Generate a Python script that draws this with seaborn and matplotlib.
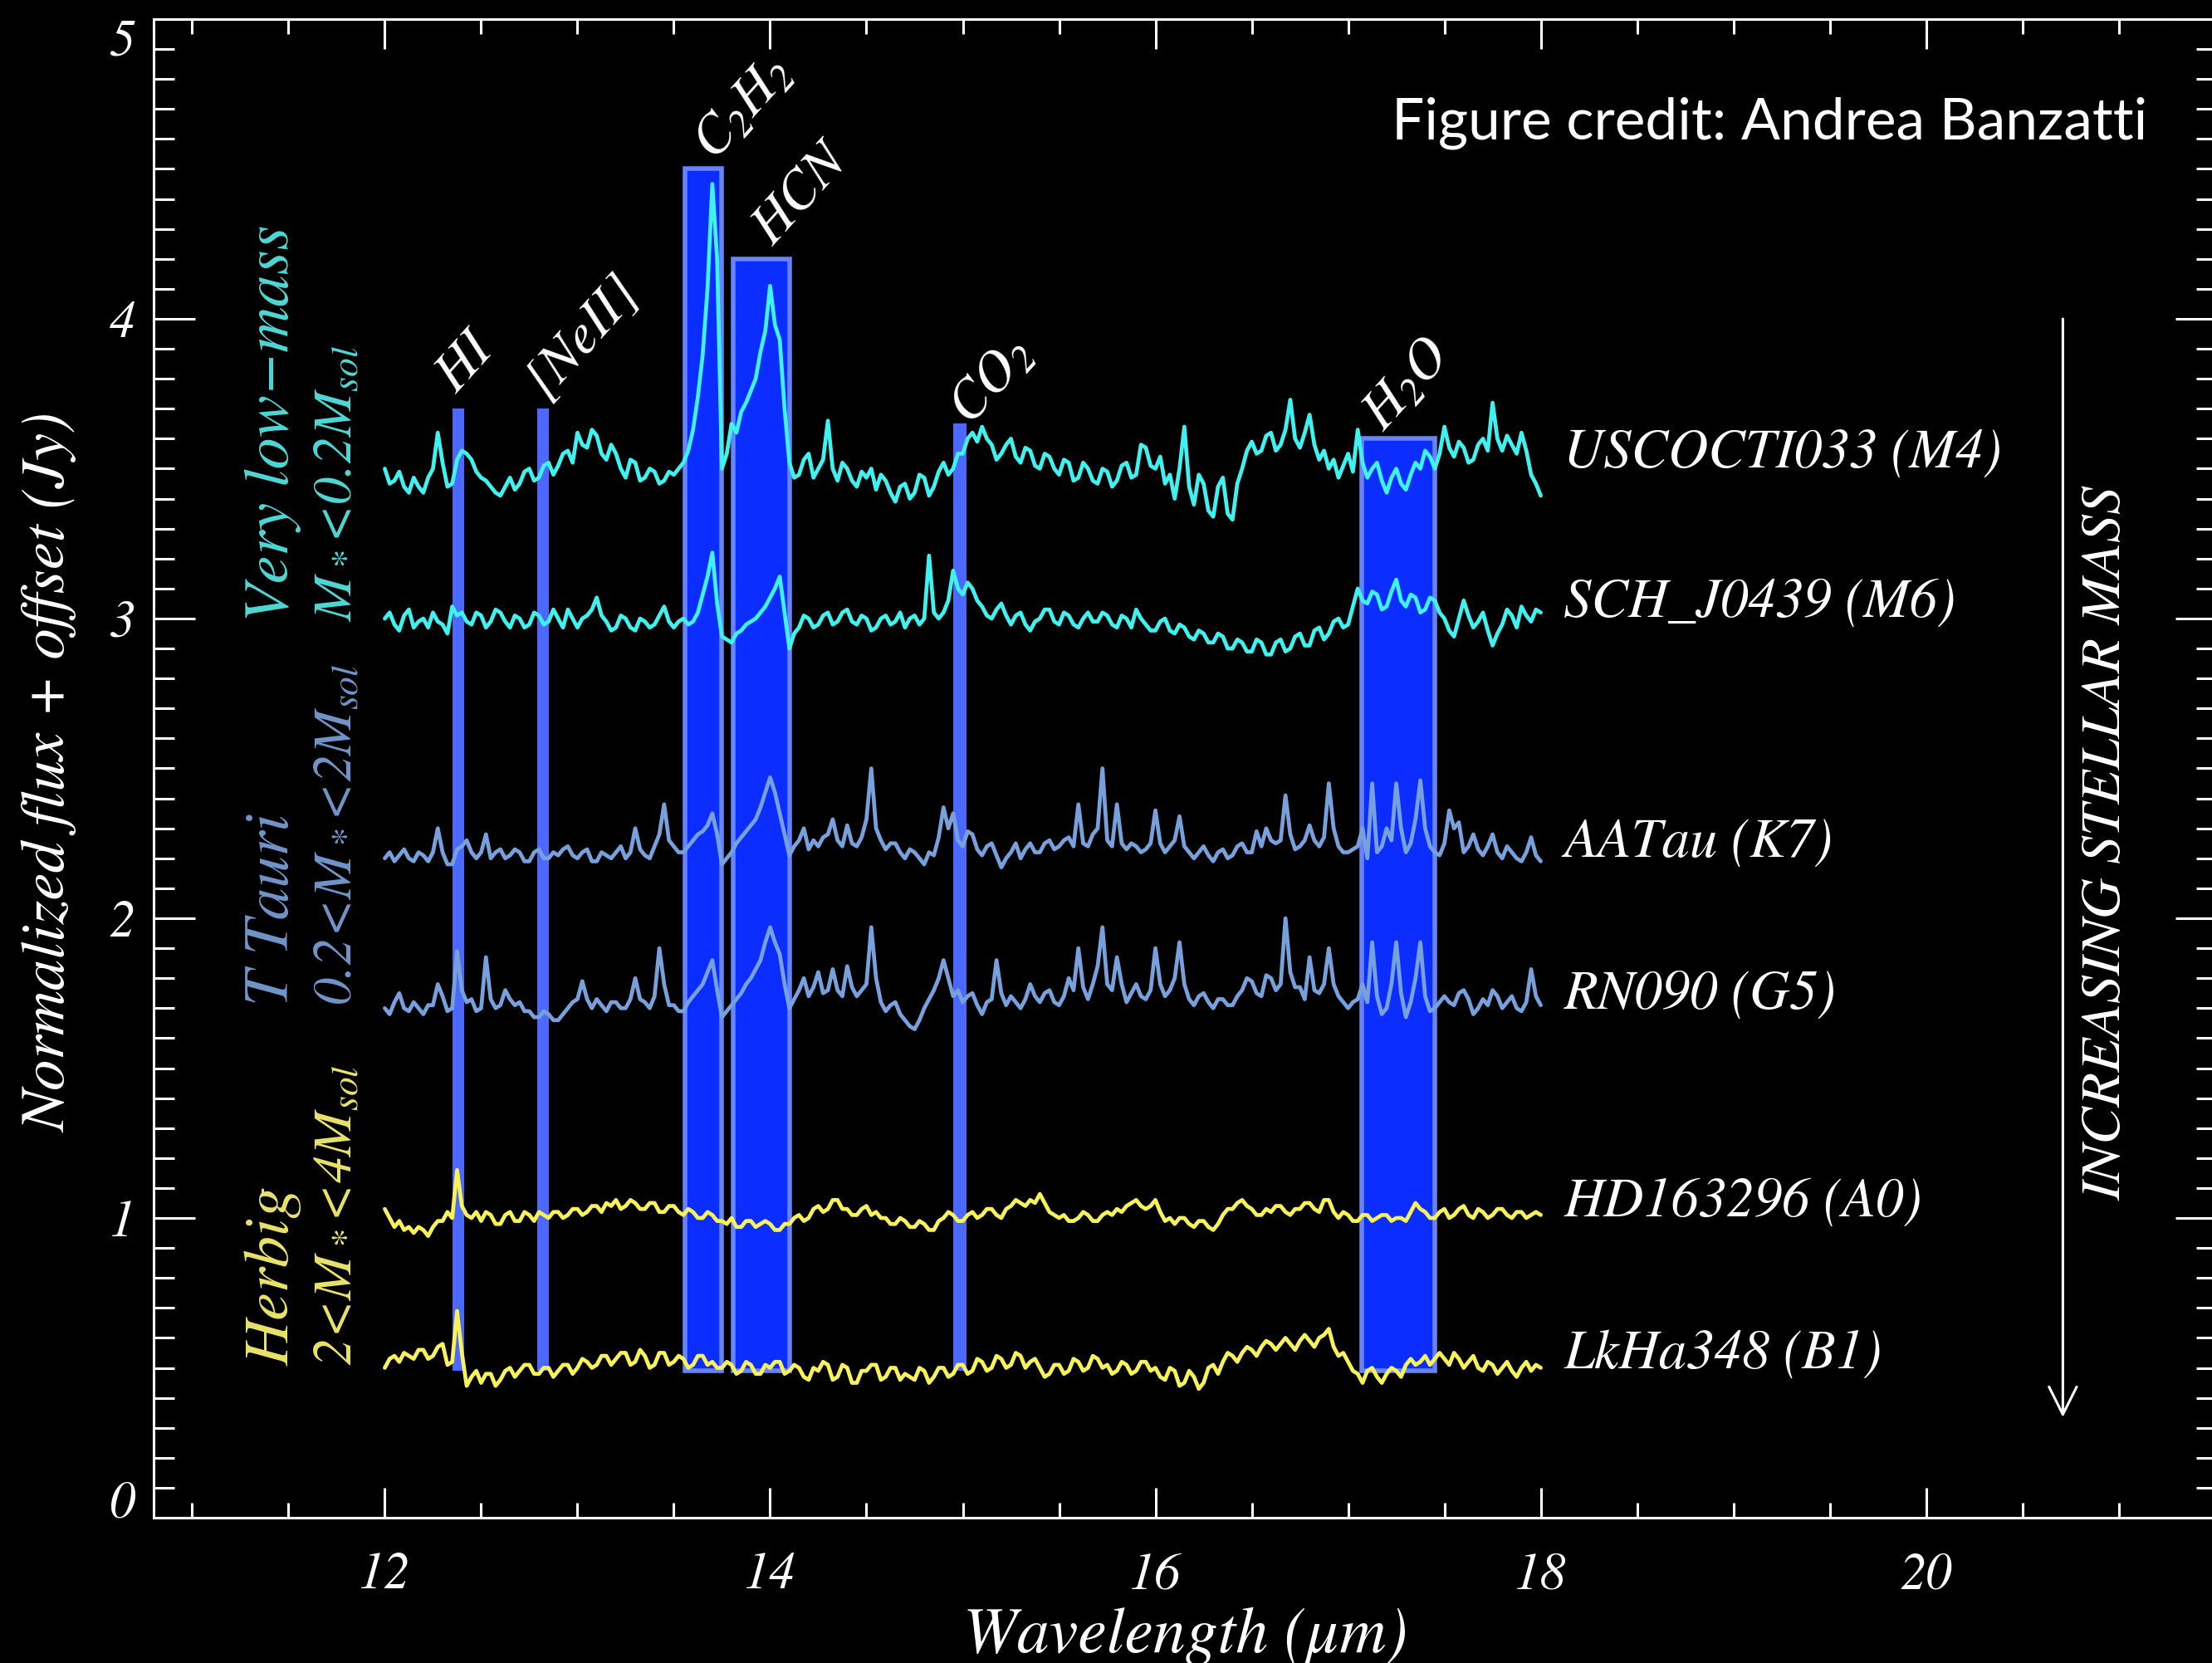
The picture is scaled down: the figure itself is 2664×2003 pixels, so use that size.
import numpy as np
import pandas as pd
import matplotlib
matplotlib.use("Agg")
import matplotlib.pyplot as plt
from matplotlib.ticker import FixedLocator, MultipleLocator
import seaborn as sns

# ---------------------------------------------------------------------------
# Spectra (normalized flux + vertical offset), sampled every 0.025 micron
# from 12.0 to 18.0 micron; one row = 0.25 micron
# ---------------------------------------------------------------------------
wavelength = np.round(np.arange(12.0, 18.0 + 0.001, 0.025), 3)

flux_usco = [
    3.50, 3.45, 3.46, 3.49, 3.44, 3.42, 3.47, 3.44, 3.42, 3.47,
    3.50, 3.62, 3.52, 3.44, 3.45, 3.53, 3.56, 3.55, 3.53, 3.49,
    3.47, 3.46, 3.44, 3.42, 3.41, 3.44, 3.47, 3.43, 3.45, 3.49,
    3.50, 3.46, 3.47, 3.51, 3.52, 3.48, 3.51, 3.55, 3.56, 3.52,
    3.62, 3.58, 3.57, 3.63, 3.61, 3.55, 3.53, 3.58, 3.55, 3.50,
    3.47, 3.53, 3.52, 3.46, 3.47, 3.50, 3.49, 3.45, 3.46, 3.49,
    3.48, 3.50, 3.52, 3.56, 3.63, 3.74, 3.88, 4.10, 4.45, 4.20,
    3.50, 3.55, 3.65, 3.62, 3.69, 3.72, 3.76, 3.80, 3.89, 3.96,
    4.11, 3.98, 3.93, 3.70, 3.52, 3.47, 3.48, 3.53, 3.55, 3.47,
    3.50, 3.53, 3.66, 3.50, 3.46, 3.52, 3.50, 3.46, 3.44, 3.49,
    3.47, 3.50, 3.43, 3.48, 3.46, 3.42, 3.39, 3.44, 3.45, 3.40,
    3.42, 3.48, 3.47, 3.41, 3.44, 3.49, 3.52, 3.48, 3.50, 3.55,
    3.55, 3.60, 3.62, 3.59, 3.64, 3.60, 3.58, 3.53, 3.55, 3.58,
    3.60, 3.54, 3.52, 3.57, 3.56, 3.51, 3.50, 3.55, 3.54, 3.50,
    3.48, 3.53, 3.52, 3.46, 3.47, 3.52, 3.50, 3.46, 3.45, 3.50,
    3.49, 3.44, 3.46, 3.51, 3.52, 3.47, 3.48, 3.58, 3.57, 3.51,
    3.50, 3.54, 3.45, 3.48, 3.40, 3.50, 3.64, 3.44, 3.38, 3.48,
    3.45, 3.36, 3.34, 3.44, 3.47, 3.35, 3.33, 3.45, 3.50, 3.56,
    3.59, 3.55, 3.56, 3.61, 3.62, 3.56, 3.58, 3.63, 3.73, 3.60,
    3.57, 3.62, 3.68, 3.58, 3.53, 3.56, 3.50, 3.53, 3.47, 3.51,
    3.55, 3.49, 3.63, 3.52, 3.47, 3.50, 3.52, 3.46, 3.42, 3.47,
    3.50, 3.45, 3.43, 3.48, 3.52, 3.50, 3.56, 3.54, 3.50, 3.55,
    3.64, 3.57, 3.54, 3.59, 3.57, 3.52, 3.53, 3.58, 3.60, 3.56,
    3.72, 3.60, 3.56, 3.61, 3.58, 3.55, 3.62, 3.56, 3.48, 3.45,
    3.41,
]

flux_sch = [
    3.00, 3.02, 2.98, 2.96, 3.01, 3.03, 2.97, 2.99, 3.00, 2.97,
    3.02, 2.99, 2.98, 2.95, 3.04, 3.01, 3.02, 2.99, 2.98, 3.02,
    3.01, 2.97, 2.99, 3.03, 3.02, 2.99, 2.97, 3.01, 3.00, 2.97,
    2.98, 3.02, 3.01, 2.98, 2.99, 3.03, 3.00, 2.97, 3.03, 3.00,
    2.97, 3.00, 3.01, 3.03, 3.07, 3.01, 2.99, 2.96, 2.97, 3.01,
    3.00, 2.97, 2.96, 3.00, 2.99, 2.97, 2.98, 3.01, 3.04, 2.99,
    2.97, 2.99, 3.00, 2.98, 2.99, 3.02, 3.08, 3.14, 3.22, 3.05,
    2.94, 2.93, 2.92, 2.95, 2.96, 2.98, 2.99, 3.00, 3.02, 3.04,
    3.07, 3.10, 3.14, 3.02, 2.90, 2.95, 2.97, 3.01, 3.00, 2.97,
    2.98, 3.01, 3.02, 2.98, 2.99, 3.02, 3.03, 2.99, 2.98, 3.01,
    3.00, 2.96, 2.97, 3.00, 3.01, 2.98, 2.99, 3.02, 2.97, 3.00,
    3.01, 2.98, 3.00, 3.21, 3.02, 3.00, 3.02, 3.06, 3.16, 3.10,
    3.08, 3.12, 3.10, 3.06, 3.04, 3.01, 3.00, 3.03, 3.05, 3.01,
    2.98, 3.01, 3.02, 2.98, 2.96, 2.99, 3.00, 3.03, 3.03, 2.99,
    2.98, 3.02, 3.01, 2.98, 2.97, 3.00, 3.02, 2.99, 2.99, 3.02,
    3.01, 2.98, 2.97, 3.01, 3.00, 2.97, 3.03, 3.00, 2.98, 2.96,
    2.96, 2.99, 3.00, 2.96, 2.95, 2.98, 2.97, 2.94, 2.93, 2.96,
    2.95, 2.92, 2.92, 2.95, 2.94, 2.90, 2.90, 2.93, 2.92, 2.89,
    2.89, 2.93, 2.92, 2.88, 2.88, 2.92, 2.93, 2.89, 2.90, 2.94,
    2.95, 2.91, 2.91, 2.96, 2.97, 2.93, 2.95, 2.99, 3.00, 2.97,
    2.98, 3.04, 3.10, 3.06, 3.05, 3.09, 3.08, 3.03, 3.04, 3.09,
    3.13, 3.06, 3.04, 3.08, 3.07, 3.02, 3.03, 3.07, 3.06, 3.02,
    3.00, 2.96, 2.94, 3.00, 3.06, 3.01, 2.97, 2.99, 3.02, 2.96,
    2.91, 2.95, 2.98, 3.03, 3.01, 2.97, 3.04, 3.01, 2.99, 3.03,
    3.02,
]

flux_aatau = [
    2.20, 2.22, 2.19, 2.21, 2.23, 2.20, 2.19, 2.22, 2.21, 2.19,
    2.22, 2.30, 2.22, 2.18, 2.18, 2.23, 2.24, 2.26, 2.22, 2.20,
    2.22, 2.28, 2.20, 2.22, 2.23, 2.20, 2.21, 2.23, 2.22, 2.19,
    2.19, 2.22, 2.23, 2.20, 2.20, 2.22, 2.21, 2.23, 2.24, 2.21,
    2.20, 2.22, 2.23, 2.19, 2.19, 2.22, 2.21, 2.20, 2.22, 2.24,
    2.20, 2.22, 2.30, 2.23, 2.21, 2.20, 2.24, 2.28, 2.38, 2.26,
    2.24, 2.22, 2.22, 2.24, 2.26, 2.28, 2.29, 2.31, 2.35, 2.28,
    2.18, 2.20, 2.22, 2.25, 2.27, 2.29, 2.31, 2.33, 2.37, 2.42,
    2.47, 2.42, 2.35, 2.28, 2.21, 2.24, 2.26, 2.30, 2.23, 2.26,
    2.24, 2.27, 2.28, 2.33, 2.26, 2.24, 2.31, 2.25, 2.24, 2.27,
    2.33, 2.50, 2.30, 2.26, 2.23, 2.25, 2.25, 2.22, 2.20, 2.23,
    2.22, 2.20, 2.18, 2.22, 2.21, 2.27, 2.37, 2.30, 2.35, 2.26,
    2.24, 2.29, 2.28, 2.23, 2.21, 2.24, 2.25, 2.21, 2.17, 2.20,
    2.22, 2.25, 2.20, 2.23, 2.25, 2.22, 2.22, 2.25, 2.26, 2.23,
    2.24, 2.26, 2.27, 2.24, 2.38, 2.25, 2.24, 2.28, 2.30, 2.50,
    2.26, 2.24, 2.38, 2.25, 2.23, 2.25, 2.24, 2.22, 2.23, 2.25,
    2.36, 2.25, 2.22, 2.24, 2.26, 2.34, 2.24, 2.22, 2.20, 2.22,
    2.24, 2.21, 2.19, 2.22, 2.23, 2.20, 2.21, 2.24, 2.25, 2.22,
    2.22, 2.29, 2.24, 2.30, 2.26, 2.25, 2.26, 2.41, 2.28, 2.23,
    2.24, 2.26, 2.31, 2.26, 2.24, 2.27, 2.45, 2.30, 2.24, 2.22,
    2.22, 2.23, 2.24, 2.30, 2.20, 2.45, 2.22, 2.24, 2.30, 2.26,
    2.45, 2.30, 2.22, 2.25, 2.33, 2.46, 2.30, 2.24, 2.22, 2.21,
    2.25, 2.36, 2.30, 2.32, 2.22, 2.24, 2.28, 2.23, 2.21, 2.24,
    2.28, 2.22, 2.20, 2.24, 2.22, 2.20, 2.19, 2.22, 2.27, 2.21,
    2.19,
]

flux_rn090 = [
    1.70, 1.68, 1.72, 1.75, 1.70, 1.69, 1.72, 1.70, 1.68, 1.71,
    1.71, 1.78, 1.74, 1.69, 1.70, 1.89, 1.76, 1.72, 1.73, 1.69,
    1.70, 1.87, 1.73, 1.70, 1.71, 1.76, 1.73, 1.71, 1.72, 1.69,
    1.69, 1.67, 1.67, 1.69, 1.68, 1.66, 1.66, 1.68, 1.70, 1.72,
    1.73, 1.79, 1.73, 1.70, 1.73, 1.71, 1.69, 1.72, 1.72, 1.70,
    1.70, 1.73, 1.80, 1.73, 1.72, 1.70, 1.74, 1.90, 1.78, 1.71,
    1.71, 1.69, 1.69, 1.72, 1.74, 1.76, 1.78, 1.82, 1.86, 1.76,
    1.67, 1.69, 1.71, 1.73, 1.75, 1.78, 1.80, 1.83, 1.86, 1.92,
    1.97, 1.92, 1.88, 1.78, 1.70, 1.73, 1.76, 1.80, 1.74, 1.77,
    1.82, 1.75, 1.76, 1.83, 1.76, 1.74, 1.84, 1.77, 1.74, 1.76,
    1.78, 1.97, 1.80, 1.72, 1.69, 1.71, 1.72, 1.68, 1.66, 1.64,
    1.63, 1.66, 1.70, 1.73, 1.76, 1.80, 1.86, 1.80, 1.74, 1.76,
    1.72, 1.74, 1.75, 1.71, 1.68, 1.72, 1.73, 1.86, 1.75, 1.71,
    1.74, 1.72, 1.70, 1.73, 1.78, 1.74, 1.72, 1.75, 1.76, 1.72,
    1.71, 1.74, 1.80, 1.76, 1.90, 1.77, 1.73, 1.78, 1.84, 1.97,
    1.78, 1.76, 1.87, 1.78, 1.72, 1.75, 1.78, 1.74, 1.73, 1.76,
    1.90, 1.78, 1.74, 1.76, 1.80, 1.92, 1.78, 1.73, 1.71, 1.74,
    1.75, 1.72, 1.70, 1.73, 1.73, 1.71, 1.71, 1.74, 1.76, 1.80,
    1.79, 1.75, 1.74, 1.81, 1.80, 1.76, 1.78, 2.00, 1.82, 1.77,
    1.77, 1.73, 1.87, 1.76, 1.75, 1.78, 1.90, 1.78, 1.74, 1.72,
    1.70, 1.72, 1.73, 1.78, 1.72, 1.92, 1.74, 1.68, 1.70, 1.78,
    1.92, 1.75, 1.67, 1.72, 1.80, 1.92, 1.74, 1.69, 1.70, 1.72,
    1.74, 1.72, 1.71, 1.75, 1.76, 1.73, 1.68, 1.70, 1.73, 1.71,
    1.76, 1.74, 1.70, 1.72, 1.74, 1.70, 1.69, 1.72, 1.83, 1.74,
    1.71,
]

flux_hd = [
    1.03, 1.00, 0.97, 0.99, 0.96, 0.97, 0.95, 0.97, 0.96, 0.94,
    0.97, 0.99, 0.99, 1.02, 1.00, 1.16, 1.04, 1.01, 1.00, 1.02,
    0.99, 1.02, 1.01, 0.98, 0.98, 1.01, 1.02, 0.99, 0.99, 1.02,
    1.01, 0.99, 1.02, 1.01, 1.00, 1.02, 1.02, 1.00, 1.01, 1.03,
    1.03, 1.01, 1.02, 1.04, 1.04, 1.02, 1.05, 1.04, 1.06, 1.03,
    1.04, 1.06, 1.05, 1.03, 1.03, 1.05, 1.05, 1.02, 1.02, 1.04,
    1.04, 1.02, 1.01, 1.03, 1.02, 1.00, 1.00, 1.02, 1.01, 0.99,
    0.99, 0.98, 1.00, 0.97, 0.97, 0.99, 0.99, 0.97, 0.98, 0.99,
    0.98, 0.96, 0.96, 0.98, 0.98, 1.00, 1.01, 0.99, 1.00, 1.03,
    1.04, 1.02, 1.03, 1.06, 1.06, 1.03, 1.03, 1.01, 1.01, 1.03,
    1.04, 1.01, 1.02, 1.00, 1.00, 0.98, 0.98, 1.00, 0.99, 0.97,
    0.97, 0.99, 0.98, 0.96, 0.96, 0.99, 1.00, 1.02, 1.01, 0.99,
    0.99, 1.01, 1.02, 1.00, 1.01, 1.03, 1.03, 1.01, 1.00, 1.03,
    1.04, 1.06, 1.05, 1.04, 1.06, 1.05, 1.08, 1.05, 1.02, 1.01,
    1.00, 1.01, 0.99, 0.99, 1.00, 1.02, 1.01, 0.99, 0.99, 1.01,
    1.02, 1.01, 1.03, 1.02, 1.04, 1.05, 1.06, 1.04, 1.03, 1.04,
    1.06, 1.02, 0.99, 1.00, 0.98, 1.00, 1.00, 0.98, 0.97, 0.99,
    0.99, 0.97, 0.96, 0.98, 1.01, 1.03, 1.03, 1.05, 1.06, 1.04,
    1.03, 1.01, 1.01, 1.03, 1.02, 1.04, 1.04, 1.02, 1.01, 1.03,
    1.03, 1.05, 1.05, 1.03, 1.02, 1.06, 1.06, 1.02, 1.00, 1.02,
    1.01, 0.99, 0.99, 1.01, 1.01, 0.99, 1.00, 1.01, 1.01, 0.99,
    1.00, 1.00, 0.99, 1.02, 1.05, 1.03, 1.02, 1.00, 1.00, 1.02,
    1.03, 1.00, 1.01, 1.03, 1.04, 1.01, 1.00, 1.03, 1.02, 1.00,
    1.01, 1.03, 1.03, 1.01, 1.00, 1.02, 1.02, 1.00, 1.01, 1.02,
    1.01,
]

flux_lkha = [
    0.50, 0.53, 0.54, 0.52, 0.55, 0.54, 0.53, 0.56, 0.56, 0.53,
    0.54, 0.57, 0.58, 0.51, 0.52, 0.69, 0.55, 0.44, 0.47, 0.49,
    0.45, 0.48, 0.48, 0.44, 0.46, 0.49, 0.50, 0.47, 0.49, 0.51,
    0.51, 0.48, 0.48, 0.50, 0.50, 0.47, 0.49, 0.51, 0.51, 0.48,
    0.50, 0.53, 0.52, 0.50, 0.51, 0.54, 0.54, 0.51, 0.53, 0.55,
    0.55, 0.51, 0.52, 0.56, 0.54, 0.50, 0.51, 0.55, 0.55, 0.51,
    0.52, 0.54, 0.53, 0.50, 0.51, 0.54, 0.54, 0.51, 0.52, 0.50,
    0.50, 0.52, 0.51, 0.48, 0.49, 0.52, 0.51, 0.48, 0.48, 0.51,
    0.50, 0.52, 0.52, 0.48, 0.49, 0.51, 0.50, 0.47, 0.46, 0.50,
    0.49, 0.52, 0.51, 0.46, 0.47, 0.51, 0.50, 0.45, 0.45, 0.49,
    0.49, 0.51, 0.51, 0.46, 0.47, 0.50, 0.50, 0.46, 0.48, 0.47,
    0.46, 0.50, 0.49, 0.45, 0.47, 0.50, 0.50, 0.47, 0.48, 0.51,
    0.51, 0.48, 0.49, 0.53, 0.52, 0.49, 0.50, 0.54, 0.53, 0.50,
    0.51, 0.55, 0.54, 0.50, 0.52, 0.53, 0.50, 0.47, 0.48, 0.51,
    0.51, 0.48, 0.49, 0.53, 0.52, 0.49, 0.50, 0.54, 0.53, 0.50,
    0.51, 0.48, 0.49, 0.52, 0.51, 0.48, 0.49, 0.52, 0.52, 0.49,
    0.50, 0.47, 0.46, 0.50, 0.49, 0.44, 0.45, 0.49, 0.47, 0.43,
    0.45, 0.50, 0.51, 0.48, 0.52, 0.55, 0.54, 0.52, 0.55, 0.57,
    0.56, 0.54, 0.57, 0.59, 0.58, 0.56, 0.58, 0.60, 0.58, 0.56,
    0.59, 0.61, 0.59, 0.57, 0.60, 0.61, 0.63, 0.57, 0.54, 0.55,
    0.52, 0.49, 0.48, 0.45, 0.49, 0.50, 0.47, 0.45, 0.48, 0.50,
    0.49, 0.47, 0.51, 0.53, 0.51, 0.52, 0.54, 0.51, 0.53, 0.55,
    0.53, 0.51, 0.55, 0.53, 0.50, 0.52, 0.54, 0.50, 0.49, 0.52,
    0.51, 0.48, 0.50, 0.52, 0.49, 0.47, 0.50, 0.52, 0.49, 0.51,
    0.50,
]

sources = ["USCOCTI033 (M4)", "SCH_J0439 (M6)", "AATau (K7)",
           "RN090 (G5)", "HD163296 (A0)", "LkHa348 (B1)"]
source_flux = [flux_usco, flux_sch, flux_aatau, flux_rn090, flux_hd, flux_lkha]
source_label_y = [3.55, 3.05, 2.25, 1.745, 1.05, 0.545]
source_colors = ["#3ff2ef", "#3ff2ef", "#77a1dc", "#77a1dc", "#f7f258", "#f7f258"]

# Molecular / atomic line windows
band_names = ["HI", "[NeII]", r"$C_2H_2$", "HCN", r"$CO_2$", r"$H_2O$"]
band_lo = [12.35, 12.79, 13.56, 13.81, 14.95, 17.07]
band_hi = [12.41, 12.85, 13.75, 14.10, 15.02, 17.45]
band_top = [3.70, 3.70, 4.50, 4.20, 3.65, 3.60]
band_bottom = 0.49
band_label_x = [12.42, 13.03, 13.86, 14.16, 15.15, 17.31]
band_label_y = [3.85, 3.94, 4.70, 4.41, 3.79, 3.78]

# Stellar mass groups
group_name = ["Very low\u2212mass", "T Tauri", "Herbig"]
group_range = [r"$M_*\!<\!\mathit{0.2}M_{sol}$",
               r"$\mathit{0.2}\!<\!M_*\!<\!\mathit{2}M_{sol}$",
               r"$\mathit{2}\!<\!M_*\!<\!\mathit{4}M_{sol}$"]
group_bottom = [2.99, 1.71, 0.507]
group_colors = ["#4fd8d6", "#7195ca", "#e9e26a"]

# ---------------------------------------------------------------------------
sns.set_theme(style="dark")
plt.rcParams.update({
    "figure.facecolor": "black",
    "axes.facecolor": "black",
    "savefig.facecolor": "black",
    "axes.edgecolor": "white",
    "axes.linewidth": 2.2,
    "axes.grid": False,
    "xtick.color": "white",
    "ytick.color": "white",
    "text.color": "white",
    "axes.labelcolor": "white",
    "mathtext.fontset": "stix",
})
plt.rcParams["font.family"] = ["STIXGeneral", "DejaVu Serif"]
plt.rcParams["font.style"] = "italic"

W, H = 2664, 2003
fig = plt.figure(figsize=(W / 100, H / 100), dpi=100)
ax = fig.add_axes([185 / W, 1 - 1828 / H, 2485 / W, 1805 / H])

# line windows
for lo, hi, top in zip(band_lo, band_hi, band_top):
    wide = (hi - lo) > 0.1
    ax.bar((lo + hi) / 2, top - band_bottom, width=hi - lo, bottom=band_bottom,
           color="#0b2dff" if wide else "#4b69ff",
           edgecolor="#6784ff" if wide else "#4b69ff",
           linewidth=4 if wide else 0, zorder=1)

# spectra
frames = [pd.DataFrame({"wavelength": wavelength, "flux": f, "source": s})
          for s, f in zip(sources, source_flux)]
df = pd.concat(frames, ignore_index=True)
sns.lineplot(data=df, x="wavelength", y="flux", hue="source",
             hue_order=sources, palette=dict(zip(sources, source_colors)),
             estimator=None, sort=False, linewidth=3.4, legend=False,
             ax=ax, zorder=3)

for s, y in zip(sources, source_label_y):
    ax.text(18.12, y, s, ha="left", va="center", fontsize=48, color="white")

for name, x, y in zip(band_names, band_label_x, band_label_y):
    ax.text(x, y, name, rotation=48, rotation_mode="anchor",
            ha="center", va="center", fontsize=48, color="white")

for name, rng, yb, c in zip(group_name, group_range, group_bottom, group_colors):
    ax.text(11.42, yb, name, rotation=90, ha="center", va="bottom",
            fontsize=55, color=c)
    ax.text(11.76, yb, rng, rotation=90, ha="center", va="bottom",
            fontsize=47, color=c)

ax.annotate("", xy=(20.71, 0.335), xytext=(20.71, 4.0),
            arrowprops=dict(arrowstyle="->,head_length=0.6,head_width=0.3",
                            color="white", lw=2.2, mutation_scale=40,
                            shrinkA=0, shrinkB=0))
ax.text(20.94, 2.25, "INCREASING STELLAR MASS", rotation=90,
        ha="center", va="center", fontsize=49, color="white")

fig.text(2586 / W, 1 - 148 / H, "Figure credit: Andrea Banzatti",
         ha="right", va="center", family="Lato", style="normal",
         fontsize=50, color="white")

# axes
ax.set_xlim(10.8, 21.51)
ax.set_ylim(0, 5)
ax.xaxis.set_major_locator(FixedLocator([12, 14, 16, 18, 20]))
ax.xaxis.set_minor_locator(MultipleLocator(0.5))
ax.yaxis.set_major_locator(FixedLocator([0, 1, 2, 3, 4, 5]))
ax.yaxis.set_minor_locator(MultipleLocator(0.1))
ax.tick_params(axis="y", which="major", direction="in", length=36, width=2.2,
               left=True, right=True, labelsize=45, pad=16)
ax.tick_params(axis="y", which="minor", direction="in", length=18, width=2.2,
               left=True, right=True)
ax.tick_params(axis="x", which="major", direction="in", length=26, width=2.2,
               top=True, bottom=True, labelsize=45, pad=30)
ax.tick_params(axis="x", which="minor", direction="in", length=13, width=2.2,
               top=True, bottom=True)
for sp in ax.spines.values():
    sp.set_color("white")
    sp.set_linewidth(2.2)

yticks = ax.yaxis.get_major_ticks()
yticks[0].label1.set_va("baseline")
yticks[-1].label1.set_va("top")

ax.set_xlabel("Wavelength (\u03bcm)", fontsize=56)
ax.xaxis.set_label_coords(0.5, -0.0792)
ax.xaxis.label.set_va("center")
ax.set_ylabel("")
ax.text(-0.0503, 0.4975, "Normalized flux + offset (Jy)", transform=ax.transAxes,
        rotation=90, ha="center", va="center", fontsize=54, color="white")

fig.savefig("out.png", dpi=100, facecolor="black")
